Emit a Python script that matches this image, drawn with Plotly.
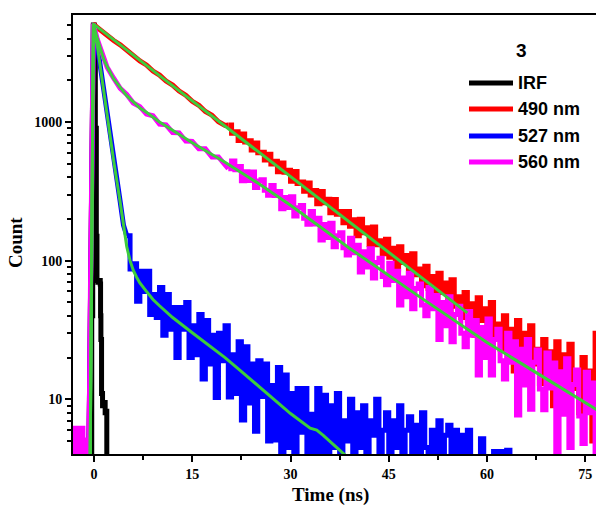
import plotly.graph_objects as go

# ---------------- data ----------------
irf_t = [-3.2, -0.55, -0.35, -0.2, -0.1, 0.05, 0.2, 0.35, 0.45, 0.6, 0.8, 0.95, 1.0, 1.05,
         1.15, 1.3, 1.5, 1.7, 1.85, 1.95, 2.1, 3.0]
irf_c = [1, 2, 40, 1500, 5000, 3500, 900, 150, 72, 70, 72, 68, 40, 27,
         11, 9, 9.5, 8, 8.2, 2, 1, 1]

tail_t = [20.5, 21, 21.5, 22, 22.5, 23, 23.5, 24, 24.5, 25, 25.5, 26, 26.5, 27, 27.5, 28, 28.5,
          29, 29.5, 30, 30.5, 31, 31.5, 32, 32.5, 33, 33.5, 34, 34.5, 35, 35.5, 36, 36.5, 37,
          37.5, 38, 38.5, 39, 39.5, 40, 40.5, 41, 41.5, 42, 42.5, 43, 43.5, 44, 44.5, 45, 45.5,
          46, 46.5, 47, 47.5, 48, 48.5, 49, 49.5, 50, 50.5, 51, 51.5, 52, 52.5, 53, 53.5, 54,
          54.5, 55, 55.5, 56, 56.5, 57, 57.5, 58, 58.5, 59, 59.5, 60, 60.5, 61, 61.5, 62, 62.5,
          63, 63.5, 64, 64.5, 65, 65.5, 66, 66.5, 67, 67.5, 68, 68.5, 69, 69.5, 70, 70.5, 71,
          71.5, 72, 72.5, 73, 73.5, 74, 74.5, 75, 75.5, 76, 76.5, 77]

r490_head_t = [-3.2, -0.85, -0.7, -0.55, -0.4, -0.25, -0.1, 0.5, 1, 2, 3, 4, 5, 6, 7, 8, 9, 10,
               11, 12, 13, 14, 15, 16, 17, 18, 19, 20, 20.5]
r490_head_c = [1, 2.5, 10, 60, 400, 2000, 5100, 4800, 4580, 4260, 3870, 3600, 3270, 3040, 2760,
               2580, 2330, 2180, 1975, 1845, 1670, 1560, 1410, 1320, 1190, 1120, 1005, 945, 952]
r490_tail_c = [952, 829, 852, 736, 819, 718, 732, 627, 707, 599,
               605, 532, 586, 497, 521, 437, 507, 434, 449, 374,
               439, 360, 369, 317, 363, 298, 320, 257, 315, 262,
               277, 222, 276, 216, 226, 188, 226, 177, 197, 151,
               199, 159, 173, 131, 175, 130, 139, 112, 143, 106,
               123, 87, 126, 97, 109, 77, 112, 79, 87, 66,
               91, 63, 77, 50, 81, 59, 69, 44, 73, 47,
               55, 39, 59, 37, 49, 29, 54, 37, 45, 26,
               50, 29, 35, 23, 40, 23, 32, 16, 37, 23,
               30, 15, 34, 18, 23, 13, 27, 14, 22, 9,
               26, 15, 21, 9, 25, 12, 16, 8, 20, 9,
               16, 5, 30, 10]

m560_base_t = [-3.2, -3.1, -3.0, -2.9, -2.8, -2.7, -2.6, -2.5, -2.4, -2.3, -2.2, -2.1, -2.0,
               -1.9, -1.8, -1.7, -1.6, -1.5, -1.4, -1.3, -1.2, -1.1, -1.0]
m560_base_c = [6.2, 2, 6.2, 2, 6.2, 2, 6.2, 2, 6.2, 2, 6.2, 2, 6.2,
               2, 6.2, 2, 5.1, 2, 5.1, 2, 5.1, 2, 1]
m560_head_t = [-1.0, -0.85, -0.7, -0.55, -0.4, -0.25, -0.1, 0.5,
               1, 2, 3, 4, 5, 6, 7, 8, 9, 10, 11, 12, 13, 14, 15, 16, 17, 18, 19, 20, 20.5]
m560_head_c = [1, 2.5, 10, 60, 400, 2000, 5100, 3950,
               3330, 2480, 2070, 1750, 1580, 1370, 1290, 1140, 1110, 965, 955, 840, 835, 730,
               725, 640, 640, 560, 560, 495, 460]
m560_tail_c = [460, 523, 453, 477, 377, 437, 379, 436, 337, 375,
               384, 322, 296, 348, 295, 315, 237, 286, 242, 289,
               210, 241, 250, 202, 183, 226, 184, 202, 141, 182,
               147, 186, 126, 151, 159, 124, 110, 145, 114, 129,
               83, 116, 90, 122, 75, 97, 104, 77, 67, 96,
               72, 84, 48, 75, 55, 81, 45, 63, 68, 48,
               40, 64, 45, 56, 27, 50, 34, 55, 26, 41,
               47, 30, 24, 43, 29, 37, 15, 33, 20, 38,
               15, 27, 32, 19, 14, 30, 18.5, 26, 7.7, 23,
               12.7, 27, 8.5, 18.5, 22.7, 11.9, 8.4, 21.6, 12.1, 18.3,
               3.4, 15.8, 7.8, 19.6, 4.5, 12.8, 16.3, 7.6, 4.8, 15.7,
               8.0, 13.1, 1, 11.2]

b527_head_t = [-3.2, -0.85, -0.7, -0.55, -0.4, -0.25, -0.1, 0.5, 1.0, 1.5, 2.0, 2.5, 3.0, 3.5,
               4.0, 4.5, 5.0]
b527_head_c = [1, 2.5, 10, 60, 400, 2000, 5100, 3550, 2400, 1640, 1120, 770, 525, 370,
               265, 180, 151]
b527_tail_t = [5, 5.5, 6, 6.5, 7, 7.5, 8, 8.5, 9, 9.5, 10, 10.5, 11, 11.5, 12, 12.5, 13, 13.5,
               14, 14.5, 15, 15.5, 16, 16.5, 17, 17.5, 18, 18.5, 19, 19.5, 20, 20.5, 21, 21.5,
               22, 22.5, 23, 23.5, 24, 24.5, 25, 25.5, 26, 26.5, 27, 27.5, 28, 28.5, 29, 29.5,
               30, 30.5, 31, 31.5, 32, 32.5, 33, 33.5, 34, 34.5, 35, 35.5, 36, 36.5, 37, 37.5,
               38, 38.5, 39, 39.5, 40, 40.5, 41, 41.5, 42, 42.5, 43, 43.5, 44, 44.5, 45, 45.5,
               46, 46.5, 47, 47.5, 48, 48.5, 49, 49.5, 50, 50.5, 51, 51.5, 52, 52.5, 53, 53.5,
               54, 54.5, 55, 55.5, 56, 56.5, 57, 57.5, 58, 58.5, 59, 59.5, 60, 60.5, 61, 61.5,
               62, 62.5, 63, 63.5]
b527_tail_c = [151, 87, 95, 51, 84, 60, 84, 41, 57, 39,
               64, 29, 57, 32, 46, 20, 46, 32, 50, 20,
               34, 21, 41, 14, 37, 18, 29, 10.3, 30, 19,
               34, 10.4, 21, 11, 26, 7.1, 24, 9.4, 18, 5.9,
               19, 10.5, 18, 5.0, 12.6, 5.1, 17, 4.1, 15, 4.5,
               11, 1.9, 12, 5.8, 12, 1.6, 7.8, 2.3, 12, 1.5,
               10.7, 3, 9, 4.5, 11, 2, 7, 5, 10, 2,
               8, 4.5, 9, 3, 7, 5.5, 10, 2, 6, 8,
               3, 7, 4.5, 9, 2, 6, 7.5, 3, 6.5, 2,
               8, 4.5, 2, 6, 3, 7, 2, 5.5, 6.5, 2,
               6, 1, 5.5, 2, 6, 1.5, 2, 1, 5.2, 1,
               2, 1, 4.2, 1, 4.2, 1, 4.3, 1]

fit490_t = [-0.6, -0.1, 10, 20, 30, 40, 50, 57]
fit490_c = [3, 5100, 2160, 937, 406, 176, 76, 42]
fit527_t = [-0.6, -0.1, 0.5, 1, 2, 3, 4, 5, 5.5, 6, 6.5, 7, 8, 9, 10, 12, 15, 17.3, 20, 22.3,
            26, 30, 33, 34, 35, 38.5]
fit527_c = [3, 5100, 3548, 2399, 1122, 525, 263, 126, 100, 85, 76, 69, 60, 52.5, 47.3, 38.9,
            30.2, 25.1, 20, 16.2, 11.5, 7.9, 6.2, 6.0, 5.5, 3.9]
fit560_t = [-0.6, -0.1, 0.5, 1, 1.5, 2, 3, 4, 5, 6, 7, 8, 10, 12, 15, 20, 25, 30, 39, 50, 60,
            70, 77]
fit560_c = [3, 5100, 3981, 3311, 2818, 2512, 2042, 1778, 1549, 1396, 1259, 1175, 1000, 871,
            708, 513, 363, 251, 123, 53.7, 25.7, 13.2, 8.3]

legend_names = ["IRF", "490 nm", "527 nm", "560 nm"]
legend_colors = ["#000000", "#FF0000", "#0000FF", "#FF00FF"]
panel_label = "3"
x_ticks = [0, 15, 30, 45, 60, 75]
y_ticks = [10, 100, 1000]

# ---------------- figure ----------------
W, H = 596, 511
L, R, T, B = 73, 0, 15, 57
FIT = "#3DCC3D"
DW = 5

fig = go.Figure()


def data_trace(x, y, color, shape):
    fig.add_trace(go.Scatter(x=x, y=y, mode="lines",
                             line=dict(color=color, width=DW, shape=shape)))


data_trace(irf_t, irf_c, legend_colors[0], "hv")
data_trace(r490_head_t, r490_head_c, legend_colors[1], "linear")
data_trace(tail_t, r490_tail_c, legend_colors[1], "hv")
data_trace(b527_head_t, b527_head_c, legend_colors[2], "linear")
data_trace(b527_tail_t, b527_tail_c, legend_colors[2], "hv")
data_trace(m560_base_t, m560_base_c, legend_colors[3], "hv")
data_trace(m560_head_t, m560_head_c, legend_colors[3], "linear")
data_trace(tail_t, m560_tail_c, legend_colors[3], "hv")
for ft, fc in [(fit490_t, fit490_c), (fit527_t, fit527_c), (fit560_t, fit560_c)]:
    fig.add_trace(go.Scatter(x=ft, y=fc, mode="lines", line=dict(color=FIT, width=3)))


def px(xp):
    return (xp - L) / (W - L - R)


def py(yp):
    return (H - B - yp) / (H - T - B)


serif = dict(family="Liberation Serif", color="black", weight="bold")
sans = dict(family="Liberation Sans", color="black", weight="bold")

annotations = [
    dict(text="Time (ns)", x=px(330), y=py(495), font=dict(size=19, **serif)),
    dict(text="Count", x=px(16), y=py(243), textangle=-90, font=dict(size=19, **serif)),
    dict(text=panel_label, x=px(521), y=py(50), font=dict(size=19, **sans)),
]
shapes = []
leg_y = [83, 109, 136, 162]
for name, col, yy in zip(legend_names, legend_colors, leg_y):
    shapes.append(dict(type="line", xref="paper", yref="paper", x0=px(469), x1=px(513),
                       y0=py(yy), y1=py(yy), line=dict(color=col, width=5)))
    annotations.append(dict(text=name, x=px(516), y=py(yy), xanchor="left",
                            font=dict(size=18, **sans)))
for a in annotations:
    a.update(xref="paper", yref="paper", showarrow=False)
    a.setdefault("xanchor", "center")
    a.setdefault("yanchor", "middle")

y_minor = [5, 6, 7, 8, 9, 20, 30, 40, 50, 60, 70, 80, 90,
           200, 300, 400, 500, 600, 700, 800, 900, 2000, 3000, 4000, 5000]

fig.update_layout(
    width=W, height=H, margin=dict(l=L, r=R, t=T, b=B),
    plot_bgcolor="white", paper_bgcolor="white", showlegend=False,
    annotations=annotations, shapes=shapes,
    xaxis=dict(range=[-3.21, 76.64], showgrid=False, zeroline=False,
               showline=True, linecolor="black", linewidth=2, mirror=True,
               ticks="outside", ticklen=6, tickwidth=2, tickcolor="black",
               tickmode="array", tickvals=x_ticks, ticktext=[str(v) for v in x_ticks],
               tickfont=dict(size=14, **serif),
               minor=dict(tickmode="array", tickvals=[7.5, 22.5, 37.5, 52.5, 67.5],
                          ticks="outside", ticklen=4, tickwidth=2, tickcolor="black")),
    yaxis=dict(type="log", range=[0.606, 3.7715], showgrid=False, zeroline=False,
               showline=True, linecolor="black", linewidth=2, mirror=False,
               ticks="outside", ticklen=6, tickwidth=2, tickcolor="black",
               tickmode="array", tickvals=y_ticks, ticktext=[str(v) for v in y_ticks],
               tickfont=dict(size=14, **serif),
               minor=dict(tickmode="array", tickvals=y_minor,
                          ticks="outside", ticklen=4, tickwidth=2, tickcolor="black")),
)

fig.write_html("out.html")
